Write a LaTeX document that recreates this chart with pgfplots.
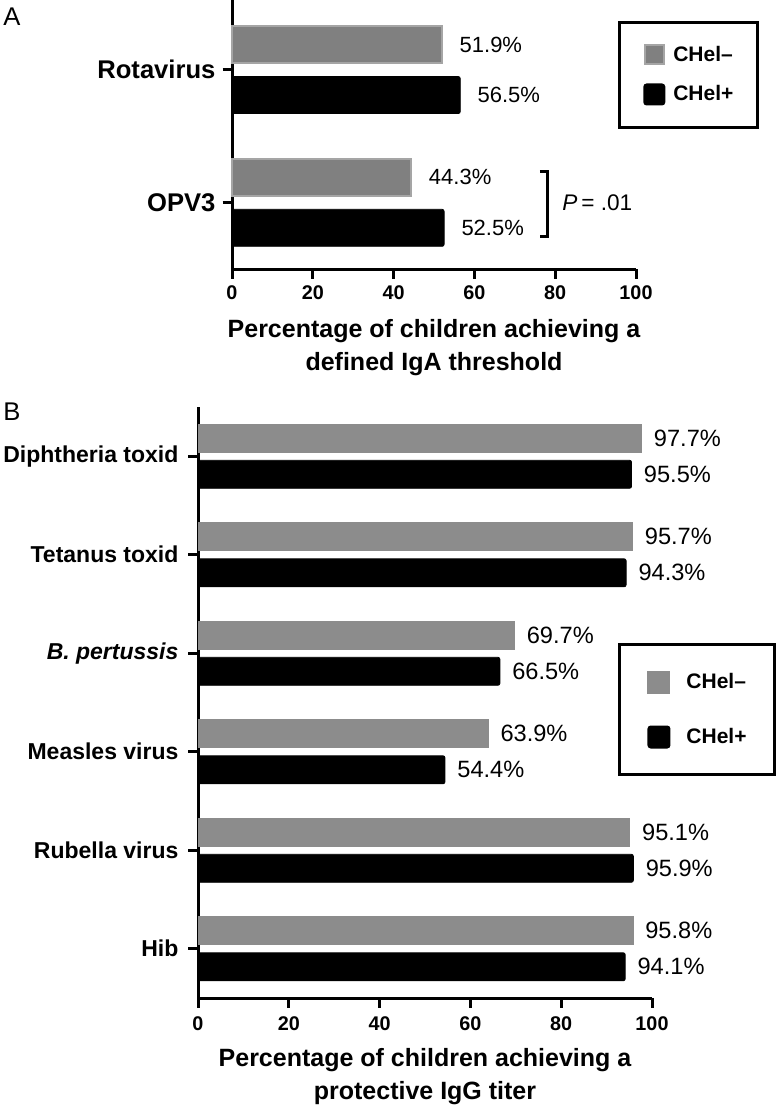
\documentclass[border=0pt]{standalone}
\usepackage{pgfplots}
\pgfplotsset{compat=1.18}
\usepackage{fontspec}
\setmainfont{Liberation Sans}
\definecolor{gA}{RGB}{128,128,128}
\definecolor{gAedge}{RGB}{165,165,165}
\definecolor{gB}{RGB}{140,140,140}
\pgfplotsset{
 panel/.style={
   scale only axis, xmin=0, xmax=100,
   axis lines=left, axis line style={line width=1.5pt,-},
   tick align=outside, major tick length=4.75pt,
   every tick/.style={black, line width=1.5pt},
   xtick={0,20,...,100},
   /pgf/number format/assume math mode=true,
   xticklabel style={font=\bfseries\fontsize{9.9}{11}\selectfont},
   xbar, bar shift=0pt, clip=false,
   nodes near coords={\pgfmathprintnumber[fixed,fixed zerofill,precision=1]{\pgfplotspointmeta}\%},
   point meta=x,
   legend cell align=left,
 }
}
\begin{document}
\begin{tikzpicture}
\useasboundingbox (0,0) rectangle (390pt,-553.5pt);
\node[anchor=north west, inner sep=0pt, font=\fontsize{12.8}{14}\selectfont] at (1.5pt,-3.5pt) {A};
\node[anchor=north west, inner sep=0pt, font=\fontsize{12.8}{14}\selectfont] at (1.5pt,-201pt) {B};
% Panel A
\begin{axis}[panel,
 at={(116pt,-134.5pt)}, anchor=south west,
 width=202pt, height=134.5pt,
 ymin=-0.5, ymax=1.526,
 ytick={0,1}, yticklabels={OPV3,Rotavirus},
 yticklabel style={font=\bfseries\fontsize{12.8}{14}\selectfont},
 bar width=18.5pt,
 every node near coord/.append style={anchor=west, inner sep=0pt, font=\fontsize{11}{13}\selectfont, xshift=8.5pt},
 xlabel={Percentage of children achieving a\\defined IgA threshold},
 xlabel style={at={(axis description cs:0.5,0)}, anchor=north, yshift=-25pt, inner sep=0pt, align=center, font=\bfseries\fontsize{12.5}{16.5}\selectfont},
 legend image code/.code={\fill[#1] (0pt,-4.75pt) rectangle (9.5pt,4.75pt);},
 legend style={at={(rel axis cs:0.955,0.922)}, anchor=north west, draw=black, line width=1.5pt, inner xsep=12pt, inner ysep=11pt, row sep=9pt, column sep=4pt, font=\bfseries\fontsize{10.5}{12}\selectfont, nodes={inner sep=0pt}},
]
\addplot[fill=gA, draw=gAedge, line width=1pt] coordinates {(51.9,1.19) (44.3,0.19)};
\addplot[fill=black, draw=black, rounded corners=1pt] coordinates {(56.5,0.81) (52.5,-0.19)};
\legend{CHel\textendash, CHel+}
\draw[line width=1.5pt] (axis cs:76.2,0.233) -- (axis cs:78,0.233) -- (axis cs:78,-0.256) -- (axis cs:76.2,-0.256);
\node[anchor=west, inner sep=0pt, font=\fontsize{11.3}{13}\selectfont] at (axis cs:81.7,0) {\textit{P}\,= .01};
\end{axis}
% Panel B
\begin{axis}[panel,
 at={(99pt,-499pt)}, anchor=south west,
 width=227pt, height=295.5pt,
 ymin=-0.5, ymax=5.5,
 ytick={0,1,2,3,4,5}, yticklabels={Hib,Rubella virus,Measles virus,\textit{B. pertussis},Tetanus toxid,Diphtheria toxid},
 yticklabel style={font=\bfseries\fontsize{11.5}{13}\selectfont, xshift=-1.5pt},
 xticklabel style={yshift=-1pt},
 bar width=14pt,
 every node near coord/.append style={anchor=west, inner sep=0pt, font=\fontsize{11.8}{13}\selectfont, xshift=6pt},
 xlabel={Percentage of children achieving a\\protective IgG titer},
 xlabel style={at={(axis description cs:0.5,0)}, anchor=north, yshift=-25pt, inner sep=0pt, align=center, font=\bfseries\fontsize{12.5}{16.5}\selectfont},
 legend image code/.code={\fill[#1] (0pt,-5pt) rectangle (10pt,5pt);},
 legend style={at={(rel axis cs:0.925,0.6007)}, anchor=north west, draw=black, line width=1.5pt, inner xsep=14pt, inner ysep=13pt, row sep=16pt, column sep=8pt, font=\bfseries\fontsize{10.5}{12}\selectfont, nodes={inner sep=0pt}},
]
\addplot[fill=gB, draw=gB] coordinates {(97.7,5.183) (95.7,4.183) (69.7,3.183) (63.9,2.183) (95.1,1.183) (95.8,0.183)};
\addplot[fill=black, draw=black, rounded corners=1pt] coordinates {(95.5,4.817) (94.3,3.817) (66.5,2.817) (54.4,1.817) (95.9,0.817) (94.1,-0.183)};
\legend{CHel\textendash, CHel+}
\end{axis}
\end{tikzpicture}
\end{document}
